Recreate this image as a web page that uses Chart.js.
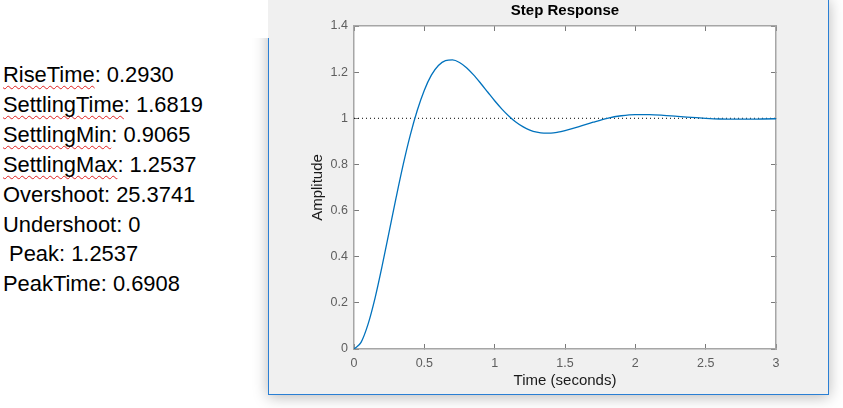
<!DOCTYPE html>
<html>
<head>
<meta charset="utf-8">
<script src="https://cdn.jsdelivr.net/npm/chart.js@4/dist/chart.umd.min.js"></script>
<style>
  html, body { margin: 0; padding: 0; background: #ffffff; }
  body { width: 843px; height: 408px; position: relative; overflow: hidden; font-family: "Liberation Sans", Arial, sans-serif; }
  #stats { position: absolute; left: 3px; top: 60px; font-size: 21.9px; line-height: 29.9px; color: #000; white-space: pre; }
  .sp { text-decoration: underline wavy #e02020; text-decoration-thickness: 1.4px; text-underline-offset: 3px; text-decoration-skip-ink: none; }
  #win { position: absolute; left: 268px; top: -2px; width: 560px; height: 396px; background: #f0f0f0;
         border-right: 1px solid #2a7fd4; border-bottom: 1px solid #2a7fd4; box-shadow: 0 2px 14px rgba(0,0,0,0.28); }
  #winLeft { position: absolute; left: 268px; top: 38px; width: 1px; height: 357px; background: #2a7fd4; }
  #cover { position: absolute; left: 230px; top: 0; width: 38px; height: 38px; background: #ffffff; }
  #c { position: absolute; left: 0; top: 0; }
</style>
</head>
<body>
<div id="stats"><span class="sp">RiseTime</span>: 0.2930
<span class="sp">SettlingTime</span>: 1.6819
<span class="sp">SettlingMin</span>: 0.9065
<span class="sp">SettlingMax</span>: 1.2537
Overshoot: 25.3741
Undershoot: 0
 Peak: 1.2537
PeakTime: 0.6908</div>
<div id="win"></div>
<div id="cover"></div>
<div id="winLeft"></div>
<canvas id="c" width="843" height="408"></canvas>
<script>
// ---- data ----
const timeSec = [0, 0.05, 0.1, 0.15, 0.2, 0.25, 0.3, 0.35, 0.4, 0.45, 0.5, 0.55, 0.6, 0.65, 0.7, 0.75,
  0.8, 0.85, 0.9, 0.95, 1.0, 1.05, 1.1, 1.15, 1.2, 1.25, 1.3, 1.35, 1.4, 1.45, 1.5,
  1.6, 1.7, 1.8, 1.9, 2.0, 2.1, 2.2, 2.3, 2.4, 2.5, 2.6, 2.7, 2.8, 2.9, 3.0];
const amplitude = [0, 0.029, 0.108, 0.222, 0.360, 0.509, 0.658, 0.800, 0.927, 1.035, 1.122, 1.187, 1.229, 1.250, 1.253, 1.242,
  1.219, 1.188, 1.152, 1.114, 1.076, 1.041, 1.010, 0.984, 0.964, 0.949, 0.940, 0.936, 0.936, 0.940, 0.947,
  0.964, 0.983, 1.000, 1.011, 1.016, 1.016, 1.013, 1.008, 1.004, 1.000, 0.997, 0.996, 0.996, 0.997, 0.998];
const finalTime = [0, 3];
const finalValue = [1, 1];
const xTickLabels = ['0', '0.5', '1', '1.5', '2', '2.5', '3'];
const yTickLabels = ['0', '0.2', '0.4', '0.6', '0.8', '1', '1.2', '1.4'];
const chartTitle = 'Step Response';
const xTitle = 'Time (seconds)';
const yTitle = 'Amplitude';

const responsePts = timeSec.map((t, i) => ({ x: t, y: amplitude[i] }));
const finalPts = finalTime.map((t, i) => ({ x: t, y: finalValue[i] }));

const FONT = '"Liberation Sans", Arial, sans-serif';
const axisCol = '#a6a6a6';
const tickCol = '#7a7a7a';
const labCol = '#5e5e5e';

const plotBg = {
  id: 'plotBg',
  beforeDraw(chart) {
    const a = chart.chartArea, ctx = chart.ctx;
    ctx.save();
    ctx.fillStyle = '#ffffff';
    ctx.fillRect(a.left, a.top, a.right - a.left, a.bottom - a.top);
    ctx.restore();
  }
};

function boxAxis(pos, isX, extra) {
  return Object.assign({
    type: 'linear',
    position: pos,
    min: 0,
    max: isX ? 3 : 1.4,
    border: { display: true, color: axisCol, width: 1.5 },
    grid: { display: true, drawOnChartArea: false, drawTicks: true, tickLength: -5, color: tickCol, lineWidth: 1 },
    ticks: { stepSize: isX ? 0.5 : 0.2, display: false, autoSkip: false, maxRotation: 0 }
  }, extra);
}

new Chart(document.getElementById('c'), {
  type: 'line',
  data: {
    datasets: [
      { data: responsePts, borderColor: '#0072BD', borderWidth: 1.3, pointRadius: 0, fill: false,
        cubicInterpolationMode: 'monotone', order: 1 },
      { data: finalPts, borderColor: '#000000', borderWidth: 1, borderDash: [1, 3], pointRadius: 0, fill: false, order: 2 }
    ]
  },
  plugins: [plotBg],
  options: {
    responsive: false,
    animation: false,
    devicePixelRatio: 1,
    layout: { padding: { left: 290, right: 61, top: 0, bottom: 0 } },
    plugins: {
      legend: { display: false },
      tooltip: { enabled: false },
      title: { display: true, text: chartTitle, fullSize: false, color: '#000000',
               font: { family: FONT, size: 15, weight: 'bold', lineHeight: 1.2 }, padding: { top: 2, bottom: 0 } }
    },
    scales: {
      x: boxAxis('bottom', true, {
        ticks: { stepSize: 0.5, display: true, autoSkip: false, maxRotation: 0, padding: 12.5, color: labCol,
                 font: { family: FONT, size: 12.5 }, callback: (v, i) => xTickLabels[i] },
        title: { display: true, text: xTitle, color: '#1a1a1a', font: { family: FONT, size: 15 }, padding: { top: 0, bottom: 18 } },
        afterFit: s => { s.height = 59; }
      }),
      x2: boxAxis('top', true, { afterFit: s => { s.height = 6; } }),
      y: boxAxis('left', false, {
        ticks: { stepSize: 0.2, display: true, autoSkip: false, padding: 11, color: labCol,
                 font: { family: FONT, size: 12.5 }, callback: (v, i) => yTickLabels[i] },
        title: { display: true, text: yTitle, color: '#1a1a1a', font: { family: FONT, size: 15 }, padding: { top: 19, bottom: 0 } },
        afterFit: s => { s.width = 64; }
      }),
      y2: boxAxis('right', false, { afterFit: s => { s.width = 6; } })
    }
  }
});
</script>
</body>
</html>
